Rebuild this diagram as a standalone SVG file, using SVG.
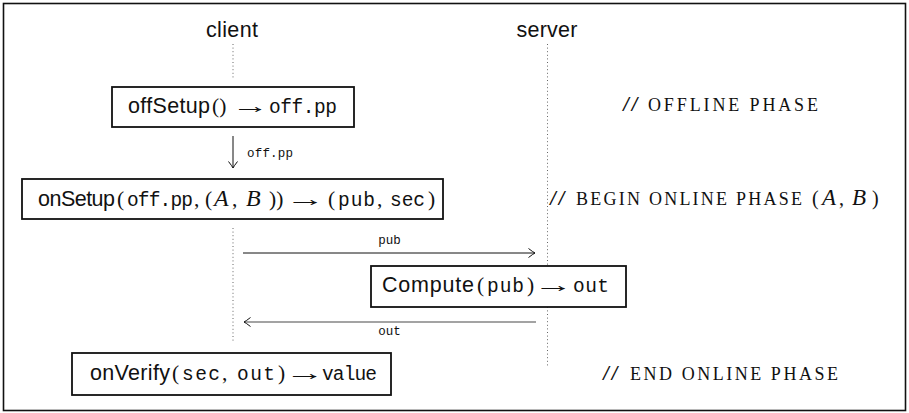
<svg xmlns="http://www.w3.org/2000/svg" width="909" height="413" viewBox="0 0 909 413">
<style>
text{fill:#111}
.sans{font-family:"Liberation Sans","DejaVu Sans",sans-serif;font-size:21.5px}
.ser{font-family:"Liberation Serif","DejaVu Serif",serif;font-size:21.5px}
.arr{font-family:"Liberation Serif","DejaVu Serif",serif;font-size:22px}
.mono{font-family:"Liberation Mono","DejaVu Sans Mono",monospace;font-size:19.5px}
.it{font-family:"Liberation Serif","DejaVu Serif",serif;font-style:italic;font-size:24px}
.box{fill:#fff;stroke:#111;stroke-width:1.8}
.life{stroke:#666;stroke-width:1;stroke-dasharray:1 2.6;fill:none}
.sl{font-family:"Liberation Serif","DejaVu Serif",serif;font-size:20px}
.sc{font-family:"Liberation Serif","DejaVu Serif",serif;font-size:18px}
.cm{font-family:"Liberation Serif","DejaVu Serif",serif;font-size:20px}
.cmi{font-family:"Liberation Serif","DejaVu Serif",serif;font-style:italic;font-size:23px}
.msg{font-family:"Liberation Mono","DejaVu Sans Mono",monospace;font-size:12.5px}
</style>
<defs>
<marker id="ah" markerWidth="10" markerHeight="10" refX="0" refY="0" viewBox="-8 -5 10 10" orient="auto" markerUnits="userSpaceOnUse">
<path d="M-6.5,-4.5 Q-2,-1 0,0 Q-2,1 -6.5,4.5" fill="none" stroke="#111" stroke-width="1"/>
</marker>
</defs>
<rect x="3.5" y="3.5" width="902" height="407" fill="#fff" stroke="#111" stroke-width="1.6"/>

<g id="lifelines">
<text class="sans" x="232" y="37" text-anchor="middle" textLength="52">client</text>
<text class="sans" x="547" y="37" text-anchor="middle" textLength="61">server</text>
<line class="life" x1="233" y1="44" x2="233" y2="80"/>
<line class="life" x1="233" y1="228" x2="233" y2="342"/>
<line class="life" x1="547.5" y1="44" x2="547.5" y2="367"/>
</g>

<g id="connectors">
<line x1="233" y1="136" x2="233" y2="168" stroke="#111" stroke-width="1" marker-end="url(#ah)"/>
<text class="msg" x="247" y="157" textLength="46">off.pp</text>
<line x1="243" y1="253" x2="535" y2="253" stroke="#111" stroke-width="1" marker-end="url(#ah)"/>
<text class="msg" x="389.5" y="244" text-anchor="middle">pub</text>
<line x1="536" y1="322" x2="244" y2="322" stroke="#858585" stroke-width="1.3" marker-end="url(#ah)"/>
<text class="msg" x="389.5" y="335" text-anchor="middle">out</text>
</g>

<g id="offSetup">
<rect class="box" x="112" y="87" width="242" height="40"/>
<text y="113"><tspan class="sans" x="128" textLength="82">offSetup</tspan><tspan class="ser" x="212">()</tspan><tspan class="mono" x="269" textLength="68">off.pp</tspan></text>
<text class="arr" x="0" y="0" text-anchor="middle" transform="translate(250.5,113) scale(1.7,1)">→</text>
</g>

<g id="onSetup">
<rect class="box" x="22" y="179" width="421" height="40"/>
<text y="206"><tspan class="sans" x="38" textLength="77">onSetup</tspan><tspan class="ser" x="117">(</tspan><tspan class="mono" x="127" textLength="66">off.pp</tspan><tspan class="ser" x="194">,</tspan><tspan class="ser" x="205">(</tspan><tspan class="it" x="214">A</tspan><tspan class="ser" x="232">,</tspan><tspan class="it" x="246">B</tspan><tspan class="ser" x="269">))</tspan><tspan class="ser" x="328">(</tspan><tspan class="mono" x="338" textLength="37">pub</tspan><tspan class="ser" x="377">,</tspan><tspan class="mono" x="390" textLength="35">sec</tspan><tspan class="ser" x="428">)</tspan></text>
<text class="arr" x="0" y="0" text-anchor="middle" transform="translate(305.5,206) scale(1.8,1)">→</text>
</g>

<g id="compute">
<rect class="box" x="371" y="266" width="255" height="41"/>
<text y="292"><tspan class="sans" x="382" textLength="92">Compute</tspan><tspan class="ser" x="477">(</tspan><tspan class="mono" x="487" textLength="37">pub</tspan><tspan class="ser" x="527">)</tspan><tspan class="mono" x="573" textLength="36">out</tspan></text>
<text class="arr" x="0" y="0" text-anchor="middle" transform="translate(553.5,292) scale(1.8,1)">→</text>
</g>

<g id="onVerify">
<rect class="box" x="72" y="353" width="319" height="42"/>
<text y="380"><tspan class="sans" x="90" textLength="80">onVerify</tspan><tspan class="ser" x="172">(</tspan><tspan class="mono" x="182" textLength="38">sec</tspan><tspan class="ser" x="222">,</tspan><tspan class="mono" x="237" textLength="38">out</tspan><tspan class="ser" x="278">)</tspan><tspan class="mono" x="322" textLength="55">value</tspan></text>
<text class="arr" x="0" y="0" text-anchor="middle" transform="translate(305,380) scale(1.8,1)">→</text>
</g>

<g id="comments">
<text y="111"><tspan class="sl" x="622" textLength="17" lengthAdjust="spacingAndGlyphs">//</tspan><tspan class="sc" x="648" textLength="170">OFFLINE PHASE</tspan></text>
<text y="205"><tspan class="sl" x="549" textLength="17" lengthAdjust="spacingAndGlyphs">//</tspan><tspan class="sc" x="576" textLength="226">BEGIN ONLINE PHASE</tspan><tspan class="cm" x="812">(</tspan><tspan class="cmi" x="822">A</tspan><tspan class="cm" x="839">,</tspan><tspan class="cmi" x="852">B</tspan><tspan class="cm" x="872">)</tspan></text>
<text y="380"><tspan class="sl" x="602" textLength="17" lengthAdjust="spacingAndGlyphs">//</tspan><tspan class="sc" x="630" textLength="208">END ONLINE PHASE</tspan></text>
</g>
</svg>
